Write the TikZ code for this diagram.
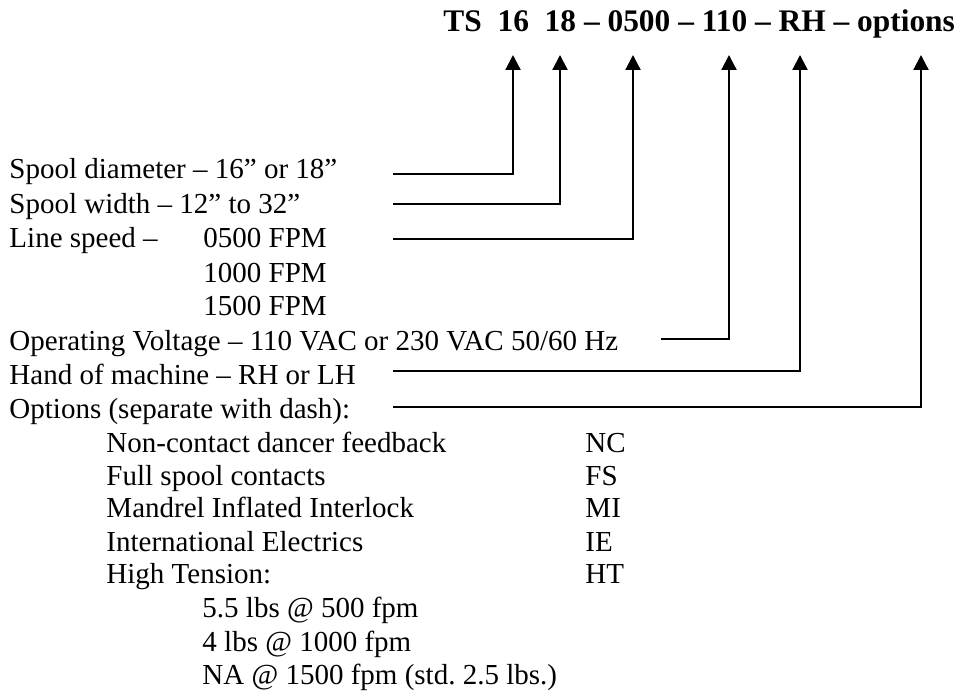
\documentclass[tikz,border=0pt]{standalone}
\usepackage{fontspec}
\setmainfont{Liberation Serif}
\usetikzlibrary{arrows.meta}

\tikzset{
    lbl/.style = {anchor=base west, inner sep=0pt, font=\fontsize{12}{14}\selectfont},
    partno/.style = {anchor=base west, inner sep=0pt, font=\fontsize{13}{16}\selectfont\bfseries},
    lead/.style = {->, line width=0.9pt}
}

\begin{document}
\begin{tikzpicture}[
    x = 0.4138pt,
    y = -0.4138pt,
    > = {Triangle[length=6.2pt, width=6.2pt]}
]
\useasboundingbox (0,0) rectangle (967,691);

% 1. The part number along the top
\node[partno] (pn) at (443, 32) {TS\ \ 16\ \ 18 -- 0500 -- 110 -- RH -- options};

% 2. The fields, one per line
\node[lbl] (dia)   at (9, 178) {Spool diameter -- 16'' or 18''};
\node[lbl] (width) at (9, 213) {Spool width -- 12'' to 32''};
\node[lbl] (speed) at (9, 247) {Line speed --};
\node[lbl] (sp1)   at (203, 247) {0500 FPM};
\node[lbl] (sp2)   at (203, 282) {1000 FPM};
\node[lbl] (sp3)   at (203, 315) {1500 FPM};
\node[lbl] (volt)  at (9, 350) {Operating Voltage -- 110 VAC or 230 VAC 50/60 Hz};
\node[lbl] (hand)  at (9, 384) {Hand of machine -- RH or LH};
\node[lbl] (opt)   at (9, 418) {Options (separate with dash):};

% 3. The option list with its codes
\foreach \name/\txt/\abbr/\y in {nc/Non-contact dancer feedback/NC/452,
                                 fs/Full spool contacts/FS/485,
                                 mi/Mandrel Inflated Interlock/MI/517,
                                 ie/International Electrics/IE/551,
                                 ht/High Tension:/HT/583} {
    \node[lbl] (\name)      at (106, \y) {\txt};
    \node[lbl] (\name-code) at (585, \y) {\abbr};
}

\node[lbl] (ht1) at (202, 617) {5.5 lbs @ 500 fpm};
\node[lbl] (ht2) at (202, 651) {4 lbs @ 1000 fpm};
\node[lbl] (ht3) at (202, 684) {NA @ 1500 fpm (std.\ 2.5 lbs.)};

% 4. Leaders from each field up to its place in the part number
\foreach \name/\sx/\sy/\tx in {dia/393/174/513,
                               width/393/204/560,
                               speed/393/239/633,
                               volt/661/339/729,
                               hand/393/371/800,
                               opt/393/407/921} {
    \coordinate (s-\name) at (\sx, \sy);
    \coordinate (t-\name) at (\tx, 55);
    \draw[lead] (s-\name) -| (t-\name);
}

\end{tikzpicture}
\end{document}
